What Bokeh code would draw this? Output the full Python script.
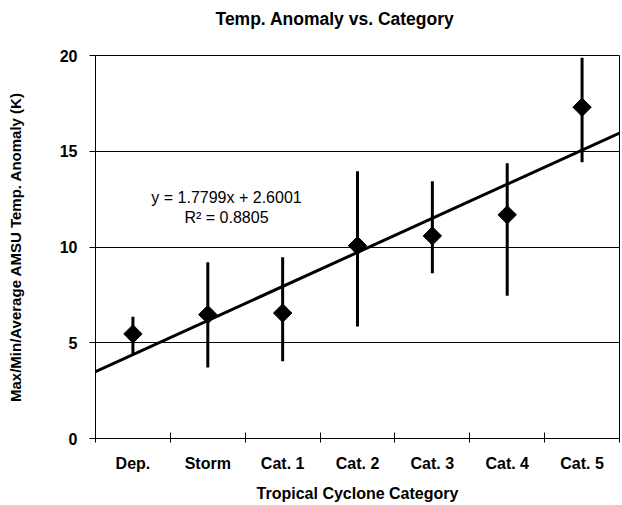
import math
from bokeh.plotting import figure
from bokeh.models import Range1d, FixedTicker, Slope, Title
from bokeh.core.properties import value
from bokeh.embed import file_html
from bokeh.resources import INLINE

# ---- data ----
categories = ["Dep.", "Storm", "Cat. 1", "Cat. 2", "Cat. 3", "Cat. 4", "Cat. 5"]
avg_anomaly = [5.46, 6.47, 6.55, 10.07, 10.58, 11.68, 17.3]
max_anomaly = [6.36, 9.2, 9.46, 13.96, 13.43, 14.37, 19.88]
min_anomaly = [4.41, 3.71, 4.03, 5.85, 8.63, 7.46, 14.43]
y_ticks = [0, 5, 10, 15, 20]
trend_slope = 1.7799
trend_intercept = 2.6001
r_squared = 0.8805
title_text = "Temp. Anomaly vs. Category"

positions = list(range(1, len(categories) + 1))
boundaries = [i + 0.5 for i in range(len(categories) + 1)]

FONT = "Liberation Sans"

p = figure(width=622, height=505, output_backend="svg", toolbar_location=None,
           x_range=Range1d(0.5, len(categories) + 0.5), y_range=Range1d(0, 20),
           min_border_left=95, min_border_right=3, min_border_top=55, min_border_bottom=67,
           background_fill_color="white", border_fill_color="white")

# spacer between frame and title
p.add_layout(Title(text=" ", text_font_size="1px", standoff=24), "above")

# title
p.title.text = title_text
p.title.text_font = FONT
p.title.text_font_size = "17.5px"
p.title.text_font_style = "bold"
p.title.text_color = "black"
p.title.align = "left"
p.title.offset = 120
p.title.standoff = 0

# outline
p.outline_line_color = "black"
p.outline_line_width = 1

# grids
p.xgrid.grid_line_color = None
p.ygrid.grid_line_color = "black"
p.ygrid.grid_line_width = 1
p.ygrid.ticker = FixedTicker(ticks=y_ticks)

# x axis
xa = p.xaxis[0]
xa.ticker = FixedTicker(ticks=positions, minor_ticks=boundaries)
xa.major_label_overrides = {pos: cat for pos, cat in zip(positions, categories)}
xa.major_tick_line_color = None
xa.major_tick_in = 0
xa.major_tick_out = 0
xa.minor_tick_line_color = "black"
xa.minor_tick_in = 6
xa.minor_tick_out = 4
xa.axis_line_color = "black"
xa.axis_line_width = 1
xa.major_label_text_font = FONT
xa.major_label_text_font_size = "16px"
xa.major_label_text_font_style = "bold"
xa.major_label_text_color = "black"
xa.major_label_standoff = 12
xa.axis_label = "Tropical Cyclone Category"
xa.axis_label_text_font = FONT
xa.axis_label_text_font_size = "16px"
xa.axis_label_text_font_style = "bold"
xa.axis_label_text_color = "black"
xa.axis_label_standoff = 10

# y axis
ya = p.yaxis[0]
ya.ticker = FixedTicker(ticks=y_ticks)
ya.major_tick_in = 0
ya.major_tick_out = 6
ya.major_tick_line_color = "black"
ya.minor_tick_line_color = None
ya.axis_line_color = "black"
ya.major_label_text_font = FONT
ya.major_label_text_font_size = "16px"
ya.major_label_text_font_style = "bold"
ya.major_label_text_color = "black"
ya.major_label_standoff = 12
ya.axis_label = "Max/Min/Average AMSU Temp. Anomaly (K)"
ya.axis_label_text_font = FONT
ya.axis_label_text_font_size = "15px"
ya.axis_label_text_font_style = "bold"
ya.axis_label_text_color = "black"
ya.axis_label_standoff = 33

# trend line
p.add_layout(Slope(gradient=trend_slope, y_intercept=trend_intercept,
                   line_color="black", line_width=3))

# error bars
p.segment(x0=positions, y0=min_anomaly, x1=positions, y1=max_anomaly,
          line_color="black", line_width=3)

# diamonds
p.scatter(x=positions, y=avg_anomaly, marker="square", size=13, angle=math.pi / 4,
          fill_color="black", line_color="black")

# equation text
eq_text = f"y = {trend_slope}x + {trend_intercept}"
r2_text = f"R\u00b2 = {r_squared}"
p.text(x=[2.25, 2.25], y=[12.58, 11.55], text=[eq_text, r2_text],
       text_align="center", text_baseline="alphabetic",
       text_font=value(FONT), text_font_size="16px", text_color="black")

open("out.html", "w").write(file_html(p, INLINE))
